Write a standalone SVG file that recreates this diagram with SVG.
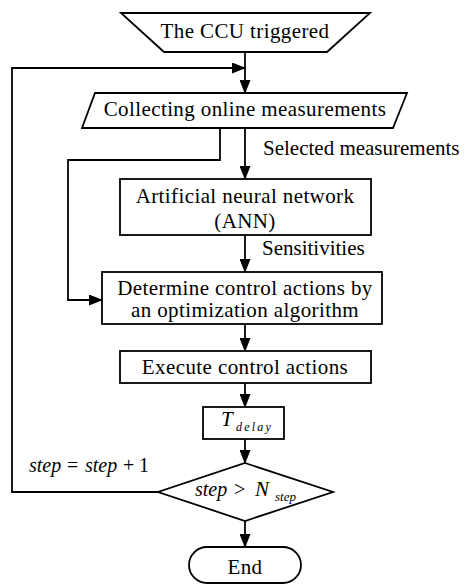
<svg xmlns="http://www.w3.org/2000/svg" width="471" height="585" viewBox="0 0 471 585">
<style>
.s{fill:#fff;stroke:#000;stroke-width:1.8}
.c{fill:none;stroke:#000;stroke-width:1.8}
.t{font-family:"Liberation Serif","Times New Roman",serif;font-size:21px;fill:#000;text-anchor:middle;letter-spacing:0.4px}
.l{font-family:"Liberation Serif","Times New Roman",serif;font-size:21px;fill:#000}
.m{font-family:"Liberation Serif","Times New Roman",serif;font-size:20px;fill:#000}
.i{font-style:italic}
</style>
<defs>
<marker id="a" markerWidth="14" markerHeight="11" refX="13" refY="5.5" orient="auto" markerUnits="userSpaceOnUse">
<path d="M0,0 L14,5.5 L0,11 Z" fill="#000"/>
</marker>
</defs>
<g id="connectors">
<line class="c" x1="245" y1="52" x2="245" y2="93" marker-end="url(#a)"/>
<polyline class="c" points="158,492 12,492 12,68 245,68" marker-end="url(#a)"/>
<line class="c" x1="245" y1="128" x2="245" y2="179" marker-end="url(#a)"/>
<polyline class="c" points="220,128 220,160 68,160 68,300 102,300" marker-end="url(#a)"/>
<line class="c" x1="245" y1="235" x2="245" y2="272" marker-end="url(#a)"/>
<line class="c" x1="245" y1="324" x2="245" y2="351" marker-end="url(#a)"/>
<line class="c" x1="245" y1="383" x2="245" y2="407" marker-end="url(#a)"/>
<line class="c" x1="245" y1="439" x2="245" y2="463" marker-end="url(#a)"/>
<line class="c" x1="245" y1="521" x2="245" y2="547" marker-end="url(#a)"/>
<text class="l" x="263" y="155">Selected measurements</text>
<text class="l" x="262" y="255">Sensitivities</text>
<text class="m"><tspan class="i" x="29" y="472">step</tspan><tspan x="67" y="472">=</tspan><tspan class="i" x="85" y="472">step</tspan><tspan x="123" y="472">+</tspan><tspan x="139" y="472">1</tspan></text>
</g>
<g id="start">
<polygon class="s" points="121,13 370,13 327,52 164,52"/>
<text class="t" x="245" y="38">The CCU triggered</text>
</g>
<g id="collect">
<polygon class="s" points="95,93 407,93 393,128 82,128"/>
<text class="t" x="245" y="116">Collecting online measurements</text>
</g>
<g id="ann">
<rect class="s" x="120" y="179" width="251" height="56"/>
<text class="t" x="245" y="203">Artificial neural network</text>
<text class="t" x="245" y="228">(ANN)</text>
</g>
<g id="determine">
<rect class="s" x="102" y="272" width="280" height="52"/>
<text class="t" x="245" y="295">Determine control actions by</text>
<text class="t" x="245" y="317">an optimization algorithm</text>
</g>
<g id="execute">
<rect class="s" x="120" y="351" width="251" height="32"/>
<text class="t" x="245" y="374">Execute control actions</text>
</g>
<g id="delay">
<rect class="s" x="203" y="407" width="81" height="32"/>
<text class="m i" x="221" y="426" style="font-size:21px">T</text>
<text class="m i" x="236" y="431" style="font-size:12px;letter-spacing:2.2px">delay</text>
</g>
<g id="decision">
<polygon class="s" points="245,463 333,492 245,521 158,492"/>
<text class="m"><tspan class="i" x="195" y="496">step</tspan><tspan x="234" y="496">&gt;</tspan><tspan class="i" x="255" y="496" style="font-size:21px">N</tspan></text>
<text class="m i" x="275" y="501" style="font-size:13px">step</text>
</g>
<g id="end">
<rect class="s" x="189" y="547" width="112" height="36" rx="18"/>
<text class="t" x="245" y="574">End</text>
</g>
</svg>
